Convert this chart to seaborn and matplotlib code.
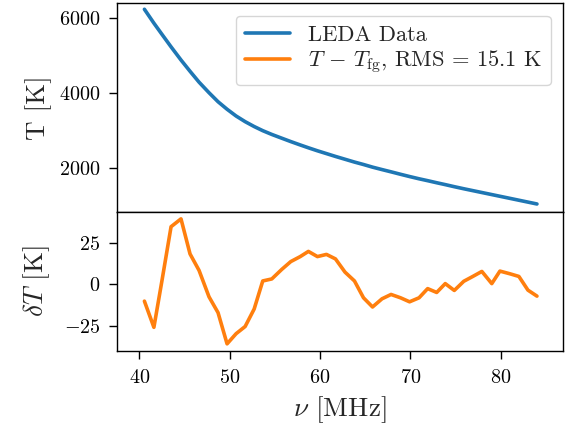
import numpy as np
import pandas as pd
import matplotlib
matplotlib.use("Agg")
import matplotlib.pyplot as plt
import seaborn as sns

# Frequency channels [MHz]
freq = [40.55, 41.6, 42.5, 43.5, 44.6, 45.6, 46.6, 47.7, 48.7, 49.7,
        50.7, 51.7, 52.7, 53.65, 54.65, 55.75, 56.75, 57.8, 58.7, 59.7,
        60.7, 61.7, 62.75, 63.8, 64.8, 65.8, 66.85, 67.85, 68.9, 69.9,
        70.95, 71.9, 72.9, 73.85, 74.85, 75.9, 76.9, 77.9, 79.0, 79.9,
        81.0, 82.0, 83.0, 84.0]

# Measured sky temperature [K]
temp = [6230, 5860, 5560, 5230, 4880, 4580, 4290, 4010, 3770, 3570,
        3390, 3240, 3110, 3000, 2900, 2800, 2710, 2620, 2545, 2465,
        2390, 2315, 2240, 2165, 2100, 2030, 1965, 1905, 1840, 1780,
        1720, 1670, 1615, 1565, 1510, 1455, 1405, 1355, 1300, 1255,
        1200, 1150, 1100, 1050]

# Residual after subtracting the foreground fit [K]
resid = [-10.1, -25.8, 2.4, 34.5, 39.2, 18.2, 8.3, -7.5, -17.0, -35.7,
         -29.6, -25.3, -14.8, 2.0, 3.2, 8.9, 13.6, 16.6, 19.7, 16.6,
         17.9, 15.2, 7.3, 2.0, -8.1, -13.6, -8.7, -6.1, -8.1, -10.5,
         -8.1, -2.6, -4.9, 0.4, -3.7, 1.8, 4.7, 7.7, 0.4, 7.9,
         6.3, 4.7, -3.5, -7.1]

df = pd.DataFrame({"freq": freq, "temp": temp, "resid": resid})
rms = float(np.sqrt(np.mean(np.square(resid))))

sns.set_theme(style="ticks")
plt.rcParams.update({
    "font.family": ["cmr10"],
    "mathtext.fontset": "cm",
    "axes.formatter.use_mathtext": True,
    "axes.unicode_minus": True,
    "axes.edgecolor": "black",
    "axes.linewidth": 1.0,
    "axes.labelpad": 5.0,
    "xtick.color": "black",
    "ytick.color": "black",
    "xtick.major.width": 1.0,
    "ytick.major.width": 1.0,
    "xtick.major.size": 5.8,
    "ytick.major.size": 5.8,
    "xtick.major.pad": 7.5,
    "ytick.major.pad": 6.0,
    "xtick.labelsize": 14.5,
    "ytick.labelsize": 14.5,
    "axes.labelsize": 19.5,
    "legend.fontsize": 16.2,
})

fig, (ax_top, ax_bot) = plt.subplots(
    2, 1, figsize=(5.7, 4.28), dpi=100, sharex=True,
    gridspec_kw={"height_ratios": [3, 2], "hspace": 0},
)
fig.subplots_adjust(left=0.205, right=0.988, top=0.992, bottom=0.181)

blue, orange = "#1f77b4", "#ff7f0e"

sns.lineplot(data=df, x="freq", y="temp", ax=ax_top, color=blue,
             linewidth=2.6, label="LEDA Data", legend=False)
sns.lineplot(data=df, x="freq", y="resid", ax=ax_bot, color=orange,
             linewidth=2.6,
             label=r"$T\,-\,T_{\rm fg}$, RMS = %.1f K" % rms,
             legend=False)

ax_top.set_ylabel("T [K]")
ax_top.set_xlabel("")
ax_top.set_ylim(845, 6385)
ax_top.set_yticks([2000, 4000, 6000])
ax_top.tick_params(axis="x", bottom=False, labelbottom=False)

ax_bot.set_ylabel(r"$\delta T$ [K]")
ax_bot.set_xlabel(r"$\nu$ [MHz]")
ax_bot.set_ylim(-39.7, 43.5)
ax_bot.set_yticks([-25, 0, 25])
ax_bot.set_xlim(37.5, 86.9)
ax_bot.set_xticks([40, 50, 60, 70, 80])

for ax in (ax_top, ax_bot):
    for s in ax.spines.values():
        s.set_visible(True)
        s.set_color("black")

handles = ax_top.get_lines()[:1] + ax_bot.get_lines()[:1]
ax_top.legend(handles=handles, labels=[h.get_label() for h in handles],
              loc="upper right", frameon=True, fancybox=True,
              framealpha=0.8, edgecolor="0.8", labelspacing=0.2,
              borderaxespad=0.55)

fig.align_ylabels([ax_top, ax_bot])
fig.savefig("out.png", dpi=100)
